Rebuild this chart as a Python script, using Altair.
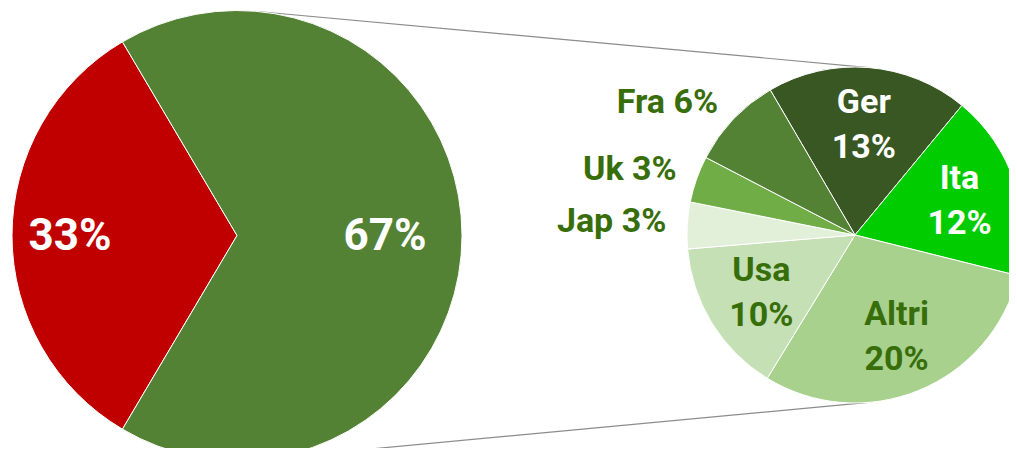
import math
import altair as alt
import pandas as pd

# ---- data ----
main_names = ["Interno", "Estero"]
main_values = [33, 67]
main_colors = ["#C00000", "#548235"]

sub_names = ["Ger", "Ita", "Altri", "Usa", "Jap", "Uk", "Fra"]
sub_values = [13, 12, 20, 10, 3, 3, 6]
sub_colors = ["#385723", "#00CC00", "#A9D18E", "#C5E0B4", "#E2F0D9", "#70AD47", "#548235"]

# ---- layout constants ----
W, H = 1001, 440
BIG_CX, BIG_CY, BIG_R = 229, 227.5, 225
SMALL_CX, SMALL_CY, SMALL_R = 847, 227, 168
BIG_START = math.radians(210.6)
SMALL_START = math.radians(329.7)
CONNECT_ANGLE = math.radians(4.6)
FONT = "Roboto"
LABEL_GREEN = "#386E0A"

main_df = pd.DataFrame({"name": main_names, "value": main_values})
sub_df = pd.DataFrame({"name": sub_names, "value": sub_values})

color_scale = alt.Scale(domain=main_names + sub_names, range=main_colors + sub_colors)


def pie(df, cx, cy, r, start, labels):
    base = (
        alt.Chart(df)
        .transform_window(idx="row_number()")
        .encode(
            theta=alt.Theta("value:Q", stack=True,
                            scale=alt.Scale(range=[start, start + 2 * math.pi])),
            order=alt.Order("idx:Q"),
            x=alt.value(cx),
            y=alt.value(cy),
        )
    )
    arcs = base.mark_arc(outerRadius=r, stroke="white", strokeWidth=1).encode(
        color=alt.Color("name:N", scale=color_scale, legend=None),
        detail="name:N",
    )
    layers = [arcs]
    for names, fmt, radius, align, color, size, dy in labels:
        expr = {
            "pct": "datum.value + '%'",
            "two": "datum.name + '\\n' + datum.value + '%'",
            "one": "datum.name + ' ' + datum.value + '%'",
        }[fmt]
        t = (
            base.transform_calculate(label=expr)
            .mark_text(radius=radius, align=align, baseline="middle", font=FONT,
                       fontWeight="bold", fontSize=size, color=color,
                       lineBreak="\n", lineHeight=45, dy=dy)
            .encode(
                text="label:N",
                detail="name:N",
                opacity=alt.condition(
                    alt.FieldOneOfPredicate(field="name", oneOf=names),
                    alt.value(1), alt.value(0)),
            )
        )
        layers.append(t)
    return alt.layer(*layers)


big = pie(main_df, BIG_CX, BIG_CY, BIG_R, BIG_START, [
    (["Interno"], "pct", 167, "center", "white", 44, 1),
    (["Estero"], "pct", 148, "center", "white", 44, 1),
])
small = pie(sub_df, SMALL_CX, SMALL_CY, SMALL_R, SMALL_START, [
    (["Ger", "Ita"], "two", 110, "center", "white", 34, -22),
    (["Altri", "Usa"], "two", 110, "center", LABEL_GREEN, 34, -22),
    (["Jap", "Uk", "Fra"], "one", 189, "right", LABEL_GREEN, 34, -2),
])

# connector lines between the two pies (derived from pie geometry)
def pt(cx, cy, r, a):
    return cx + r * math.sin(a), cy - r * math.cos(a)

bx1, by1 = pt(BIG_CX, BIG_CY, BIG_R, CONNECT_ANGLE)
sx1, sy1 = pt(SMALL_CX, SMALL_CY, SMALL_R, CONNECT_ANGLE)
bx2, by2 = pt(BIG_CX, BIG_CY, BIG_R, math.pi - CONNECT_ANGLE)
sx2, sy2 = pt(SMALL_CX, SMALL_CY, SMALL_R, math.pi - CONNECT_ANGLE)

dummy = alt.Data(values=[{"k": 1}])
line1 = alt.Chart(dummy).mark_rule(color="#8C8C8C", strokeWidth=1.2).encode(
    x=alt.value(bx1), y=alt.value(by1), x2=alt.value(sx1), y2=alt.value(sy1))
line2 = alt.Chart(dummy).mark_rule(color="#8C8C8C", strokeWidth=1.2).encode(
    x=alt.value(bx2), y=alt.value(by2), x2=alt.value(sx2), y2=alt.value(sy2))

chart = (
    alt.layer(line1, line2, big, small)
    .resolve_scale(theta="independent")
    .properties(width=W, height=H, autosize=alt.AutoSizeParams(type="none"), padding=0)
    .configure_view(stroke=None)
)

chart.save("out.html", embed_options={"renderer": "svg", "actions": False})
